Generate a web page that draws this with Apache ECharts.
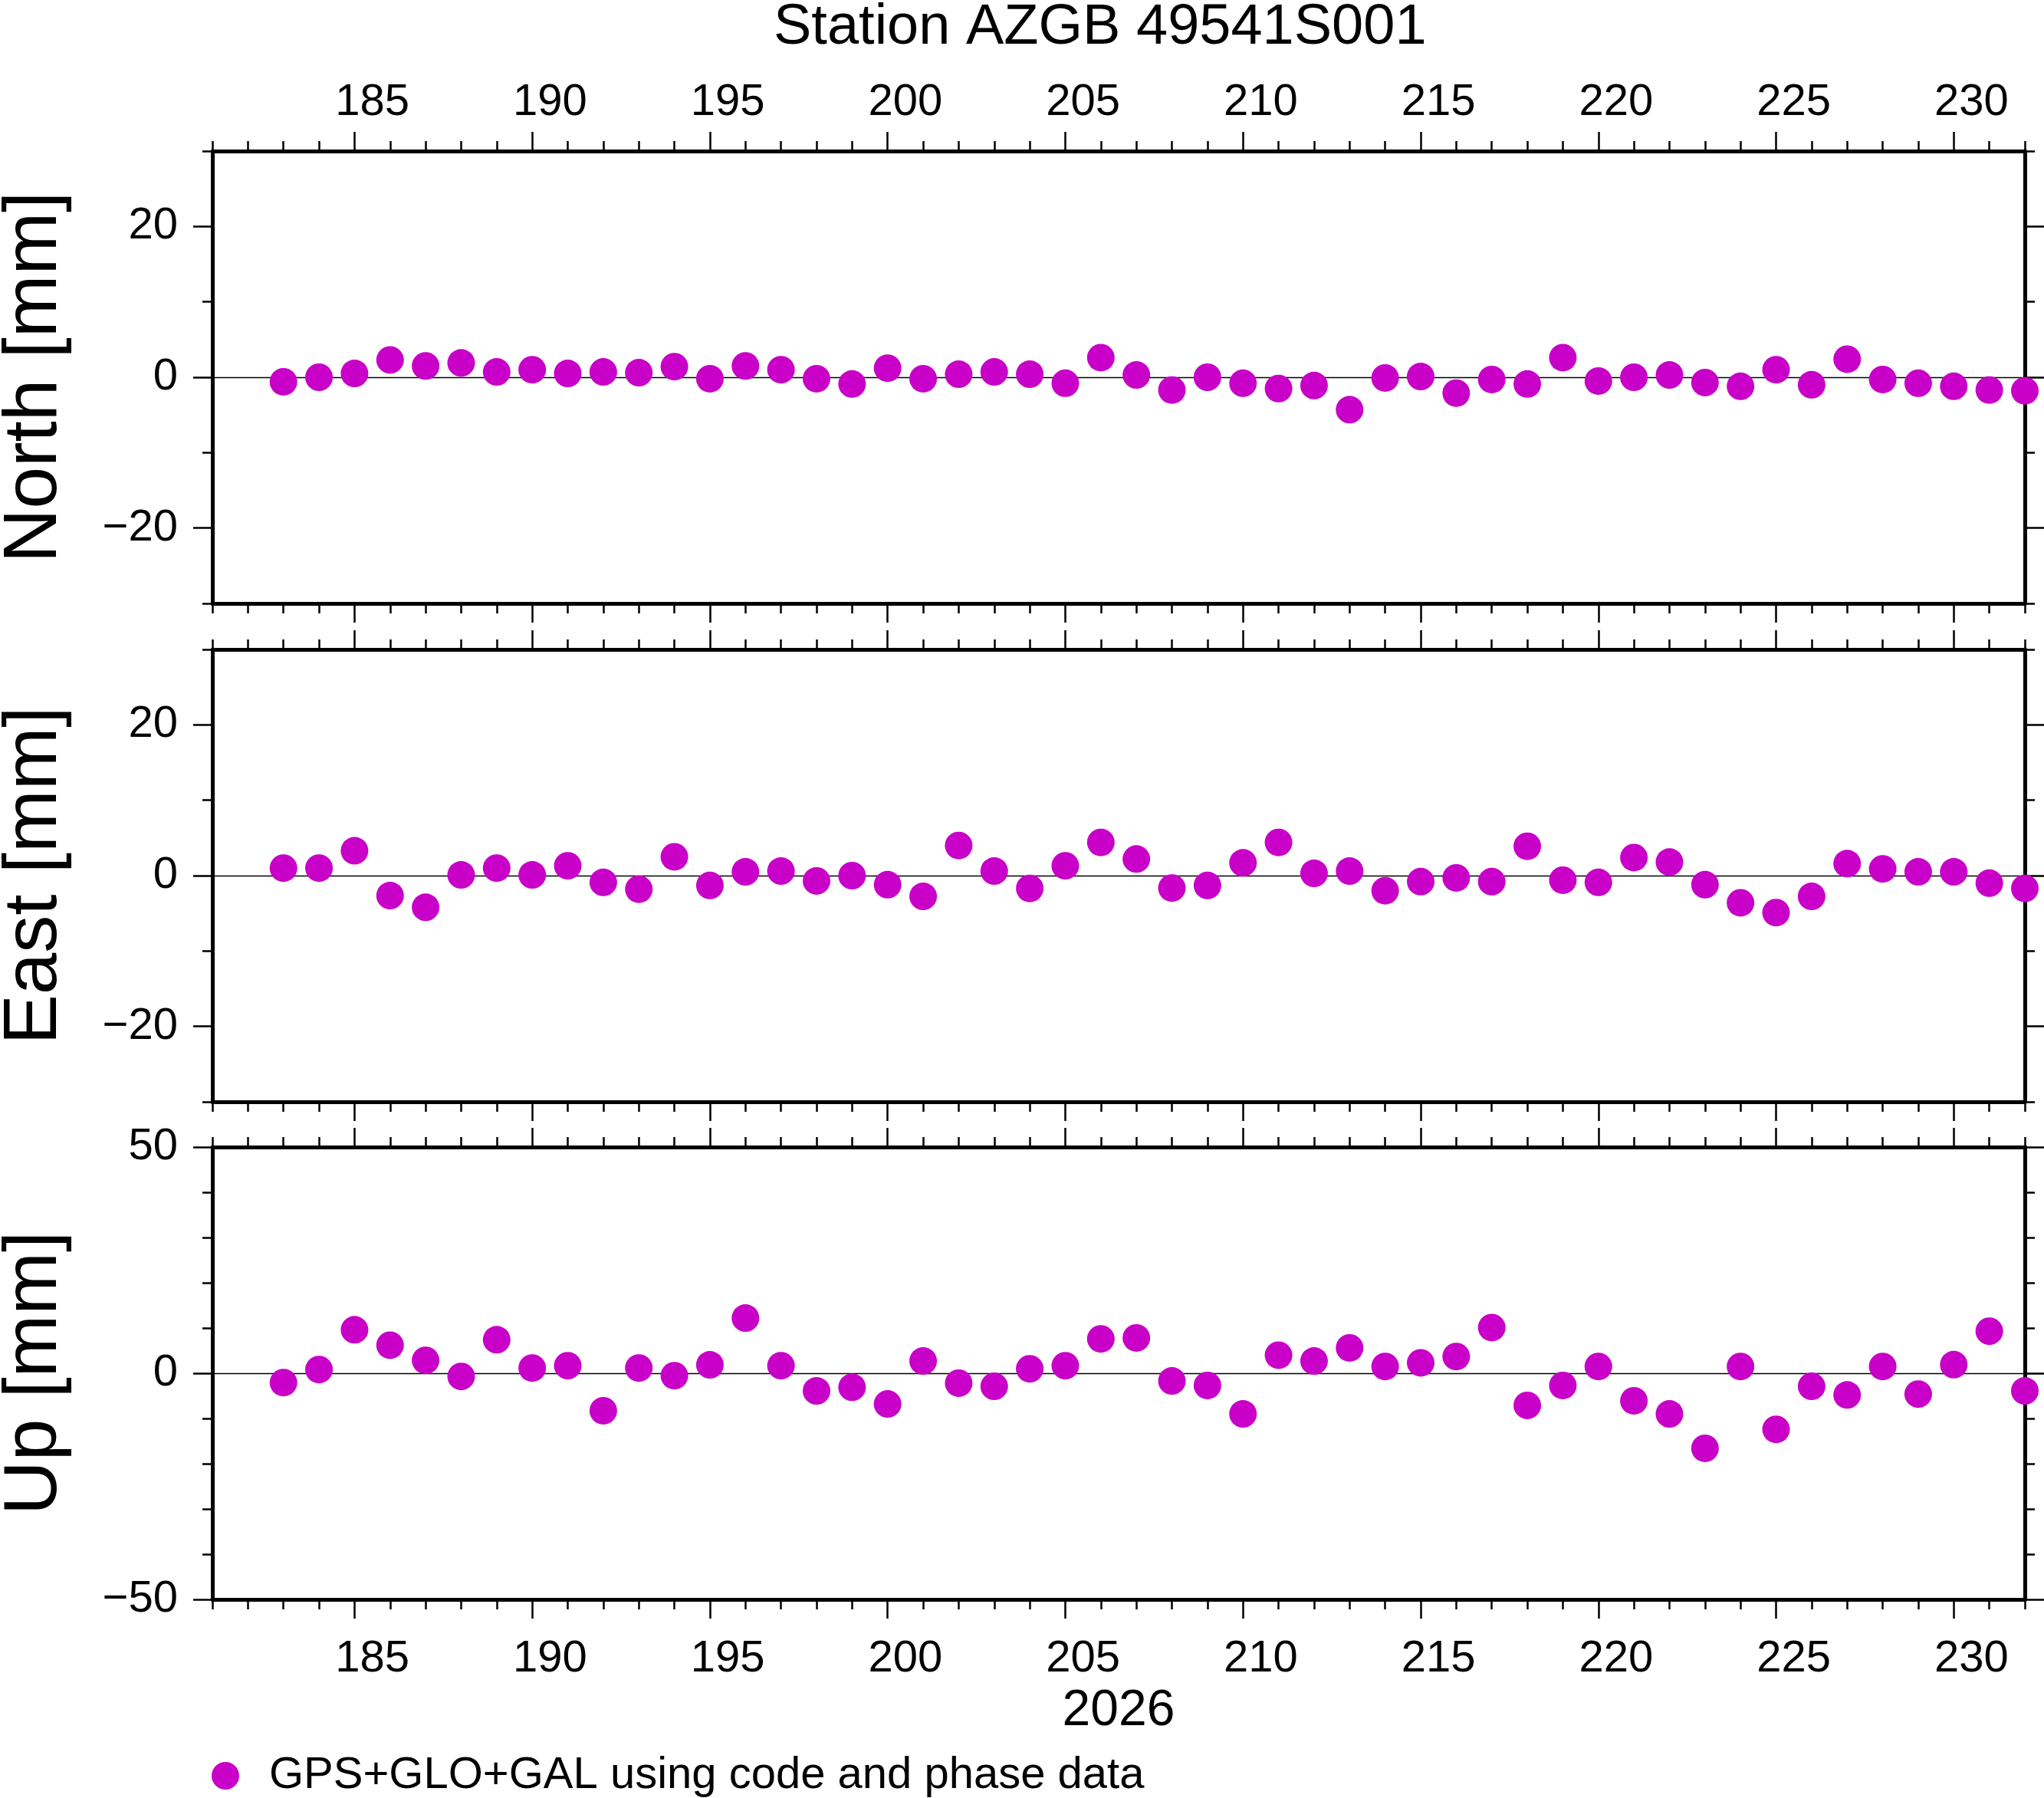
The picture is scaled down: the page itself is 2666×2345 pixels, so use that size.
<!DOCTYPE html>
<html>
<head>
<meta charset="utf-8">
<script src="https://cdn.jsdelivr.net/npm/echarts@6/dist/echarts.min.js"></script>
<style>
html,body{margin:0;padding:0;background:#fff;}
#chart{width:2666px;height:2345px;}
</style>
</head>
<body>
<div id="chart"></div>
<script>
// ---- data ----
const days = [183,184,185,186,187,188,189,190,191,192,193,194,195,196,197,198,199,200,201,202,203,204,205,206,207,208,209,210,211,212,213,214,215,216,217,218,219,220,221,222,223,224,225,226,227,228,229,230,231,232];
const north = [-0.6,0.0,0.5,2.3,1.5,1.9,0.7,1.0,0.5,0.7,0.6,1.4,-0.2,1.5,1.0,-0.2,-0.9,1.2,-0.2,0.4,0.7,0.4,-0.8,2.6,
               0.3,-1.7,0.0,-0.8,-1.5,-1.1,-4.3,-0.1,0.1,-2.1,-0.3,-0.9,2.6,-0.5,0.0,0.3,-0.7,-1.2,1.0,-1.0,2.4,-0.3,-0.8,-1.2,-1.7,-1.8];
const east = [1.0,1.0,3.3,-2.65,-4.2,0.1,1.0,0.1,1.3,-0.9,-1.8,2.5,-1.3,0.5,0.6,-0.7,0.0,-1.2,-2.75,4.0,0.6,-1.7,1.3,4.4,
              2.2,-1.65,-1.3,1.7,4.4,0.3,0.6,-2.0,-0.8,-0.3,-0.8,3.9,-0.6,-0.9,2.4,1.8,-1.2,-3.6,-4.9,-2.75,1.6,0.9,0.5,0.5,-1.0,-1.7];
const up = [-2.06,0.82,9.6,6.2,2.85,-0.7,7.4,1.16,1.67,-8.3,1.16,-0.54,1.86,12.2,1.67,-3.9,-3.1,-6.8,2.7,-2.2,-2.9,0.99,1.67,7.6,
            7.8,-1.7,-2.7,-9.0,4.0,2.7,5.6,1.5,2.3,3.7,10.1,-7.1,-2.7,1.5,-6.1,-9.0,-16.6,1.5,-12.4,-2.9,-4.8,1.5,-4.6,1.9,9.3,-3.9];

const xTickLabels = [185,190,195,200,205,210,215,220,225,230];
const xRange = [181, 232];
const panelNames = ['North [mm]', 'East [mm]', 'Up [mm]'];
const panelValues = [north, east, up];
const yRanges = [[-30, 30], [-30, 30], [-50, 50]];
const yMajorTicks = [[-20, 0, 20], [-20, 0, 20], [-50, 0, 50]];
const yMinorStep = [10, 10, 10];
const titleText = 'Station AZGB 49541S001';
const xName = '2026';
const legendName = 'GPS+GLO+GAL using code and phase data';

// ---- layout / style ----
const FONT = '"Liberation Sans", Arial, Helvetica, sans-serif';
const COLOR = '#c800c8';
const gridLeft = 277, gridWidth = 2364, gridH = 590;
const gridTops = [197, 847, 1496];
const MAJ = 25, MIN = 13;
// day annotations are centred within their day interval (GMT interval annotation style)
const xLabelPos = xTickLabels.map(d => d + 0.5);
const dayFmt = v => String(Math.floor(v));

const grids = [], xAxes = [], yAxes = [], series = [];
for (let g = 0; g < 3; g++) {
  grids.push({left: gridLeft, top: gridTops[g], width: gridWidth, height: gridH, containLabel: false, outerBoundsMode: 'none'});
  const baseX = {type: 'value', gridIndex: g, min: xRange[0], max: xRange[1], splitLine: {show: false}, splitArea: {show: false}};
  // bottom major
  xAxes.push(Object.assign({}, baseX, {
    position: 'bottom',
    axisLine: {show: true, onZero: false, lineStyle: {color: '#000', width: 5}},
    axisTick: {show: true, customValues: xTickLabels, length: MAJ, lineStyle: {color: '#000', width: 2.5}},
    axisLabel: {show: g === 2, customValues: xLabelPos, formatter: dayFmt, margin: 49, fontSize: 58, color: '#000', fontFamily: FONT},
    name: g === 2 ? xName : '', nameLocation: 'middle', nameGap: 113,
    nameTextStyle: {fontSize: 66, color: '#000', fontFamily: FONT}
  }));
  // bottom minor
  xAxes.push(Object.assign({}, baseX, {
    position: 'bottom', interval: 1,
    axisLine: {show: false, onZero: false},
    axisTick: {show: true, length: MIN, lineStyle: {color: '#000', width: 2.5}},
    axisLabel: {show: false}
  }));
  // top major
  xAxes.push(Object.assign({}, baseX, {
    position: 'top',
    axisLine: {show: true, onZero: false, lineStyle: {color: '#000', width: 5}},
    axisTick: {show: true, customValues: xTickLabels, length: MAJ, lineStyle: {color: '#000', width: 2.5}},
    axisLabel: {show: g === 0, customValues: xLabelPos, formatter: dayFmt, margin: 34, fontSize: 58, color: '#000', fontFamily: FONT}
  }));
  // top minor
  xAxes.push(Object.assign({}, baseX, {
    position: 'top', interval: 1,
    axisLine: {show: false, onZero: false},
    axisTick: {show: true, length: MIN, lineStyle: {color: '#000', width: 2.5}},
    axisLabel: {show: false}
  }));

  const baseY = {type: 'value', gridIndex: g, min: yRanges[g][0], max: yRanges[g][1], splitLine: {show: false}, splitArea: {show: false}};
  yAxes.push(Object.assign({}, baseY, {
    position: 'left',
    axisLine: {show: true, onZero: false, lineStyle: {color: '#000', width: 5}},
    axisTick: {show: true, customValues: yMajorTicks[g], length: MAJ, lineStyle: {color: '#000', width: 2.5}},
    axisLabel: {show: true, customValues: yMajorTicks[g], margin: 45, fontSize: 58, color: '#000', fontFamily: FONT,
                formatter: v => (v < 0 ? '\u2212' + Math.abs(v) : String(v))},
    name: panelNames[g], nameLocation: 'middle', nameGap: 182, nameRotate: 90,
    nameTextStyle: {fontSize: 98, color: '#000', fontFamily: FONT}
  }));
  yAxes.push(Object.assign({}, baseY, {
    position: 'left', interval: yMinorStep[g],
    axisLine: {show: false, onZero: false},
    axisTick: {show: true, length: MIN, lineStyle: {color: '#000', width: 2.5}},
    axisLabel: {show: false}
  }));
  yAxes.push(Object.assign({}, baseY, {
    position: 'right',
    axisLine: {show: true, onZero: false, lineStyle: {color: '#000', width: 5}},
    axisTick: {show: true, customValues: yMajorTicks[g], length: MAJ, lineStyle: {color: '#000', width: 2.5}},
    axisLabel: {show: false}
  }));
  yAxes.push(Object.assign({}, baseY, {
    position: 'right', interval: yMinorStep[g],
    axisLine: {show: false, onZero: false},
    axisTick: {show: true, length: MIN, lineStyle: {color: '#000', width: 2.5}},
    axisLabel: {show: false}
  }));

  const vals = panelValues[g];
  series.push({
    type: 'scatter', name: legendName,
    xAxisIndex: 4 * g, yAxisIndex: 4 * g,
    symbol: 'circle', symbolSize: 36, clip: false,
    itemStyle: {color: COLOR, opacity: 1},
    data: days.map((d, i) => [d, vals[i]]),
    z: 3,
    markLine: {
      silent: true, symbol: ['none', 'none'], z: 1, animation: false,
      label: {show: false},
      lineStyle: {color: '#000', width: 1.3, type: 'solid'},
      data: [{yAxis: 0}]
    }
  });
}

const chart = echarts.init(document.getElementById('chart'), null, {renderer: 'canvas'});
chart.setOption({
  animation: false,
  backgroundColor: '#fff',
  textStyle: {fontFamily: FONT},
  title: {
    text: titleText, left: 1009, top: 0, padding: 0,
    textStyle: {fontSize: 74, fontWeight: 'normal', color: '#000', fontFamily: FONT}
  },
  legend: {
    show: true, data: [legendName], left: 276, top: 2287, padding: 0,
    itemWidth: 36, itemHeight: 36, icon: 'circle',
    textStyle: {fontSize: 58, color: '#000', fontFamily: FONT, padding: [0, 0, 0, 34]}
  },
  grid: grids,
  xAxis: xAxes,
  yAxis: yAxes,
  series: series
});
</script>
</body>
</html>
